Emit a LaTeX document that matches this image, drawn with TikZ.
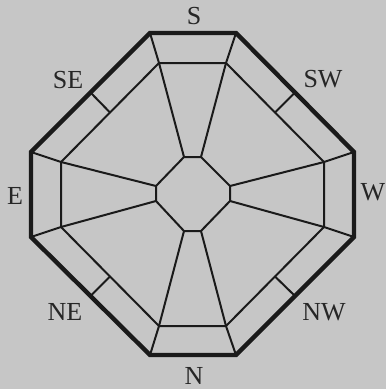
\documentclass[tikz,border=0pt]{standalone}
\usepackage{fontspec}
\setmainfont{Liberation Serif}
\usetikzlibrary{calc}
\definecolor{bg}{RGB}{198,198,198}
\definecolor{ink}{RGB}{26,26,26}
\definecolor{txt}{RGB}{38,38,38}
\begin{document}
\begin{tikzpicture}[x=1pt,y=-1pt,
  thickline/.style={draw=ink,line width=4.4pt,line join=miter},
  thinline/.style={draw=ink,line width=2pt,line join=round,line cap=round},
  lbl/.style={text=txt,font=\fontsize{26}{30}\selectfont,inner sep=0pt}]
\fill[bg] (0,0) rectangle (386,389);
\useasboundingbox (0,0) rectangle (386,389);
% outer octagon
\coordinate (o1) at (150,33);  \coordinate (o2) at (236,33);
\coordinate (o3) at (354,152); \coordinate (o4) at (354,237);
\coordinate (o5) at (236,355); \coordinate (o6) at (150,355);
\coordinate (o7) at (31,237);  \coordinate (o8) at (31,152);
% inner octagon
\coordinate (i1) at (159,63);  \coordinate (i2) at (226,63);
\coordinate (i3) at (324,162); \coordinate (i4) at (324,227);
\coordinate (i5) at (226,326); \coordinate (i6) at (159,326);
\coordinate (i7) at (61,227);  \coordinate (i8) at (61,162);
% small central octagon
\coordinate (c1) at (184,157); \coordinate (c2) at (201,157);
\coordinate (c3) at (230,186); \coordinate (c4) at (230,201);
\coordinate (c5) at (201,231); \coordinate (c6) at (184,231);
\coordinate (c7) at (156,201); \coordinate (c8) at (156,186);
% rings
\draw[thinline] (i1)--(i2)--(i3)--(i4)--(i5)--(i6)--(i7)--(i8)--cycle;
\draw[thinline] (c1)--(c2)--(c3)--(c4)--(c5)--(c6)--(c7)--(c8)--cycle;
% spokes
\foreach \k in {1,...,8}{
  \draw[thinline] (o\k)--(i\k)--(c\k);
}
% short bars at diagonal midpoints
\draw[thinline] ($(o1)!0.5!(o8)$) -- ($(i1)!0.5!(i8)$);
\draw[thinline] ($(o2)!0.5!(o3)$) -- ($(i2)!0.5!(i3)$);
\draw[thinline] ($(o4)!0.5!(o5)$) -- ($(i4)!0.5!(i5)$);
\draw[thinline] ($(o6)!0.5!(o7)$) -- ($(i6)!0.5!(i7)$);
% outer thick octagon
\draw[thickline] (o1)--(o2)--(o3)--(o4)--(o5)--(o6)--(o7)--(o8)--cycle;
% labels
\node[lbl] (S)  at (194,16)  {S};
\node[lbl] (SW) at (323,79)  {SW};
\node[lbl] (W)  at (373,192) {W};
\node[lbl] (NW) at (324,312) {NW};
\node[lbl] (N)  at (194,376) {N};
\node[lbl] (NE) at (65,312)  {NE};
\node[lbl] (E)  at (15,196)  {E};
\node[lbl] (SE) at (68,80)   {SE};
\end{tikzpicture}
\end{document}
